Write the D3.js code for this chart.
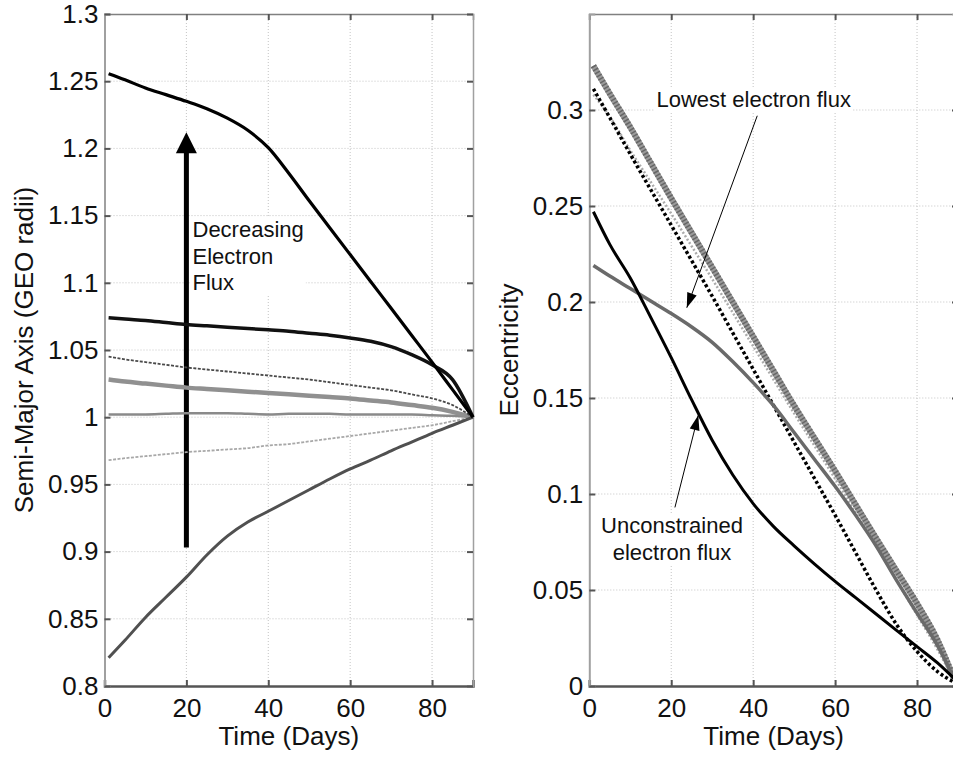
<!DOCTYPE html>
<html>
<head>
<meta charset="utf-8">
<script src="https://cdn.jsdelivr.net/npm/d3@7"></script>
<style>
  body { margin: 0; background: #fff; }
  svg { font-family: "Liberation Sans", Arial, sans-serif; }
</style>
</head>
<body>
<script>
// ---- data ----
// left panel: semi-major axis vs time (days)
var timeA = [1, 5, 10, 15, 20, 25, 30, 35, 40, 45, 50, 55, 60, 65, 70, 75, 80, 85, 90];
var smaTop    = [1.2555, 1.251, 1.245, 1.240, 1.235, 1.2295, 1.2225, 1.2135, 1.2005, 1.1815, 1.161, 1.141, 1.121, 1.101, 1.081, 1.061, 1.041, 1.0205, 1.000];
var smaSecond = [1.074, 1.073, 1.072, 1.0705, 1.069, 1.068, 1.067, 1.066, 1.065, 1.064, 1.0625, 1.061, 1.059, 1.0565, 1.0525, 1.0465, 1.039, 1.028, 1.000];
var smaThird  = [1.045, 1.043, 1.041, 1.039, 1.037, 1.0355, 1.034, 1.0325, 1.031, 1.0295, 1.028, 1.026, 1.024, 1.022, 1.020, 1.017, 1.014, 1.009, 1.000];
var smaFourth = [1.028, 1.0265, 1.025, 1.0235, 1.022, 1.021, 1.020, 1.019, 1.018, 1.017, 1.016, 1.015, 1.014, 1.0125, 1.011, 1.009, 1.007, 1.004, 1.000];
var smaFlat   = [1.002, 1.002, 1.002, 1.0025, 1.003, 1.003, 1.003, 1.0025, 1.002, 1.0025, 1.0025, 1.0025, 1.002, 1.002, 1.002, 1.002, 1.0015, 1.001, 1.000];
var smaSixth  = [0.968, 0.9695, 0.971, 0.9725, 0.974, 0.975, 0.976, 0.977, 0.979, 0.980, 0.982, 0.984, 0.986, 0.988, 0.990, 0.992, 0.994, 0.997, 1.000];
var smaBottom = [0.821, 0.834, 0.851, 0.866, 0.881, 0.8975, 0.9115, 0.922, 0.930, 0.938, 0.946, 0.954, 0.9615, 0.968, 0.975, 0.9815, 0.988, 0.994, 1.000];

// right panel: eccentricity vs time (days)
var timeE = [1, 5, 10, 15, 20, 25, 30, 35, 40, 45, 50, 55, 60, 65, 70, 75, 80, 85, 89];
var eccHatched = [0.323, 0.3085, 0.291, 0.2725, 0.254, 0.236, 0.218, 0.200, 0.182, 0.164, 0.146, 0.129, 0.112, 0.0945, 0.077, 0.060, 0.043, 0.024, 0.004];
var eccLight   = [0.308, 0.2965, 0.279, 0.2625, 0.246, 0.229, 0.212, 0.1945, 0.177, 0.1595, 0.142, 0.125, 0.108, 0.0905, 0.073, 0.055, 0.037, 0.019, 0.003];
var eccDotted  = [0.311, 0.296, 0.277, 0.2585, 0.240, 0.2215, 0.203, 0.184, 0.165, 0.146, 0.127, 0.108, 0.089, 0.0695, 0.050, 0.032, 0.018, 0.0075, 0.002];
var eccLowest  = [0.219, 0.2135, 0.207, 0.2005, 0.194, 0.187, 0.179, 0.169, 0.158, 0.146, 0.132, 0.118, 0.104, 0.089, 0.073, 0.055, 0.038, 0.021, 0.004];
var eccUncon   = [0.247, 0.230, 0.2125, 0.192, 0.171, 0.149, 0.128, 0.110, 0.095, 0.083, 0.073, 0.0635, 0.0545, 0.046, 0.0375, 0.029, 0.0205, 0.012, 0.004];

var xTicks = [0, 20, 40, 60, 80];
var smaTicks = [0.8, 0.85, 0.9, 0.95, 1, 1.05, 1.1, 1.15, 1.2, 1.25, 1.3];
var eccTicks = [0, 0.05, 0.1, 0.15, 0.2, 0.25, 0.3];

// ---- layout ----
var W = 953, H = 757;
var plotTop = 14, plotBottom = 686;

var svg = d3.select("body").append("svg")
    .attr("width", W)
    .attr("height", H);

var fmt = function(d){ return +d.toFixed(2); };

function makePanel(x0, x1, yDomain, yTicks, yLabel, yLabelX) {
  var x = d3.scaleLinear().domain([0, 90]).range([x0, x1]);
  var y = d3.scaleLinear().domain(yDomain).range([plotBottom, plotTop]);
  var g = svg.append("g");

  // grid
  g.append("g").selectAll("line").data(xTicks.filter(function(d){ return d > 0; }))
    .enter().append("line")
      .attr("x1", x).attr("x2", x).attr("y1", plotTop).attr("y2", plotBottom)
      .style("stroke", "#c4c4c4").style("stroke-dasharray", "1,2");
  g.append("g").selectAll("line").data(yTicks.filter(function(d){ return d > yDomain[0] && d < yDomain[1]; }))
    .enter().append("line")
      .attr("y1", y).attr("y2", y).attr("x1", x0).attr("x2", x1)
      .style("stroke", "#c4c4c4").style("stroke-dasharray", "1,2");

  // axes (ticks pointing inward, box style)
  var ax = g.append("g").attr("transform", "translate(0," + plotBottom + ")")
    .call(d3.axisBottom(x).tickValues(xTicks).tickSize(-6).tickPadding(13).tickFormat(fmt));
  var at = g.append("g").attr("transform", "translate(0," + plotTop + ")")
    .call(d3.axisTop(x).tickValues(xTicks).tickSize(-6).tickFormat(""));
  var al = g.append("g").attr("transform", "translate(" + x0 + ",0)")
    .call(d3.axisLeft(y).tickValues(yTicks).tickSize(-6).tickPadding(6).tickFormat(fmt));
  var ar = g.append("g").attr("transform", "translate(" + x1 + ",0)")
    .call(d3.axisRight(y).tickValues(yTicks).tickSize(-6).tickFormat(""));

  [ax, at, al, ar].forEach(function(a){
    a.selectAll("text").style("font-size", "26px").style("fill", "#111")
      .style("font-family", "'Liberation Sans', Arial, sans-serif");
    a.selectAll(".tick line").style("stroke", "#555").style("stroke-width", 2);
  });
  ax.select(".domain").style("stroke", "#555").style("stroke-width", 2.5);
  at.select(".domain").style("stroke", "#808080").style("stroke-width", 1.5);
  al.select(".domain").style("stroke", "#a0a0a0").style("stroke-width", 2);
  ar.select(".domain").style("stroke", "#a0a0a0").style("stroke-width", 1.5);

  // axis titles
  g.append("text")
    .attr("x", (x0 + x1) / 2)
    .attr("y", 745)
    .attr("text-anchor", "middle")
    .style("font-size", "26px")
    .style("fill", "#111")
    .text("Time (Days)");

  g.append("text")
    .attr("transform", "translate(" + yLabelX + "," + ((plotTop + plotBottom) / 2) + ") rotate(-90)")
    .attr("text-anchor", "middle")
    .style("font-size", "26px")
    .style("fill", "#111")
    .text(yLabel);

  return {x: x, y: y, g: g};
}

function drawSeries(p, times, vals, style) {
  var line = d3.line()
      .x(function(d, i){ return p.x(times[i]); })
      .y(function(d){ return p.y(d); })
      .curve(d3.curveMonotoneX);
  var path = p.g.append("path")
      .datum(vals)
      .attr("d", line)
      .style("fill", "none")
      .style("stroke", style.color)
      .style("stroke-width", style.width)
      .style("stroke-linejoin", "round");
  if (style.dash) path.style("stroke-dasharray", style.dash);
  return path;
}

// text with white box behind (like matlab annotation background)
function boxedText(g, lines, x, y0, lineH, anchor, size) {
  var tg = g.append("g");
  var rect = tg.append("rect").style("fill", "#fff");
  var t = tg.append("text")
      .attr("text-anchor", anchor)
      .style("font-size", size + "px")
      .style("fill", "#111");
  lines.forEach(function(s, i){
    t.append("tspan").attr("x", x).attr("y", y0 + i * lineH).text(s);
  });
  var bb = t.node().getBBox();
  rect.attr("x", bb.x - 2).attr("y", bb.y).attr("width", bb.width + 4).attr("height", bb.height);
  return tg;
}

function arrowHead(g, xA, yA, xB, yB, len, halfW) {
  // tip at (xB,yB)
  var dx = xB - xA, dy = yB - yA, L = Math.sqrt(dx*dx + dy*dy);
  var ux = dx / L, uy = dy / L;
  var bx = xB - ux * len, by = yB - uy * len;
  var pts = [[xB, yB], [bx - uy * halfW, by + ux * halfW], [bx + uy * halfW, by - ux * halfW]];
  g.append("polygon")
    .attr("points", pts.map(function(p){ return p.join(","); }).join(" "))
    .style("fill", "#000");
}

// ---- left panel ----
var left = makePanel(104.5, 473, [0.8, 1.3], smaTicks, "Semi-Major Axis (GEO radii)", 33);

boxedText(left.g, ["Decreasing", "Electron", "Flux"], 192.5, 237, 26.5, "start", 22);

// big arrow
var arX = left.x(20), arY0 = left.y(0.903), arY1 = left.y(1.212);
left.g.append("line")
  .attr("x1", arX).attr("x2", arX)
  .attr("y1", arY0).attr("y2", arY1 + 18)
  .style("stroke", "#000").style("stroke-width", 5);
arrowHead(left.g, arX, arY0, arX, arY1, 21, 10.5);

drawSeries(left, timeA, smaSixth,  {color: "#a8a8a8", width: 1.8, dash: "3,1.5"});
drawSeries(left, timeA, smaFlat,   {color: "#8a8a8a", width: 2.5});
drawSeries(left, timeA, smaFourth, {color: "#909090", width: 4.5});
drawSeries(left, timeA, smaThird,  {color: "#4a4a4a", width: 1.8, dash: "3,1.5"});
drawSeries(left, timeA, smaSecond, {color: "#111",    width: 3.5});
drawSeries(left, timeA, smaBottom, {color: "#505050", width: 3});
drawSeries(left, timeA, smaTop,    {color: "#000",    width: 3.2});

// ---- right panel ----
var right = makePanel(589.3, 958, [0, 0.35], eccTicks, "Eccentricity", 518);

boxedText(right.g, ["Lowest electron flux"], 656.5, 107, 26, "start", 22);
boxedText(right.g, ["Unconstrained", "electron flux"], 672, 533, 27, "middle", 22);

drawSeries(right, timeE, eccHatched, {color: "#9a9a9a", width: 6});
drawSeries(right, timeE, eccHatched, {color: "#666",    width: 6, dash: "1.5,2"});
drawSeries(right, timeE, eccLight,   {color: "#ababab", width: 2.5, dash: "2,2"});
drawSeries(right, timeE, eccDotted,  {color: "#000",    width: 3.5, dash: "3,2.5"});
drawSeries(right, timeE, eccLowest,  {color: "#6a6a6a", width: 3.5});
drawSeries(right, timeE, eccUncon,   {color: "#000",    width: 3});

// thin annotation arrows
var a1 = [right.x(41), right.y(0.297)], b1 = [right.x(23.8), right.y(0.197)];
right.g.append("line")
  .attr("x1", a1[0]).attr("y1", a1[1]).attr("x2", b1[0]).attr("y2", b1[1])
  .style("stroke", "#000").style("stroke-width", 1);
arrowHead(right.g, a1[0], a1[1], b1[0], b1[1], 15, 5);

var a2 = [right.x(20.9), right.y(0.093)], b2 = [right.x(26.6), right.y(0.141)];
right.g.append("line")
  .attr("x1", a2[0]).attr("y1", a2[1]).attr("x2", b2[0]).attr("y2", b2[1])
  .style("stroke", "#000").style("stroke-width", 1);
arrowHead(right.g, a2[0], a2[1], b2[0], b2[1], 15, 5);
</script>
</body>
</html>
